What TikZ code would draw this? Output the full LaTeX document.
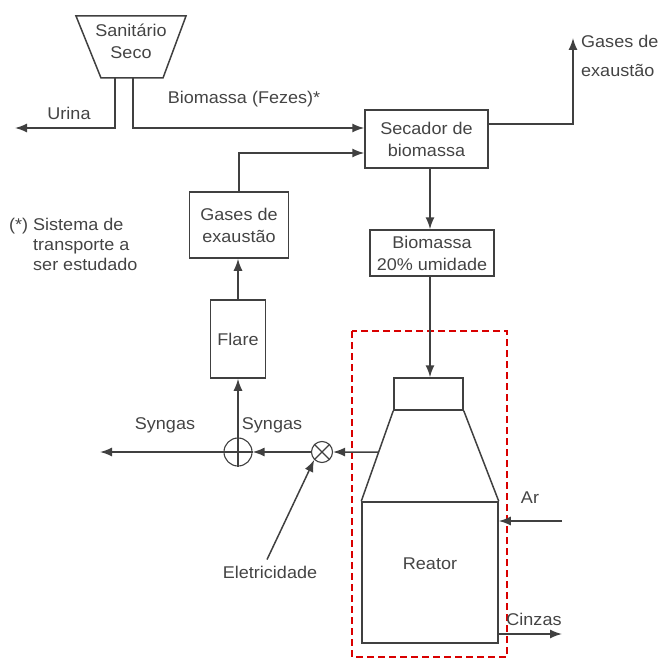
\documentclass[tikz,border=0pt]{standalone}
\usepackage{fontspec}
\setmainfont{Liberation Sans}[FakeStretch=1.06]
\usetikzlibrary{calc,arrows.meta}
\definecolor{linegray}{HTML}{404040}
\definecolor{textgray}{HTML}{444444}
\tikzset{
	box/.style={draw=linegray,line width=1.5pt,align=center,inner sep=0pt},
	flow/.style={-{Latex[length=12pt,width=9pt]},draw=linegray,line width=1.5pt},
	lbl/.style={text=textgray,inner sep=0pt},
}
\begin{document}
\begin{tikzpicture}[x=1pt,y=-1pt,font=\fontsize{17}{22}\selectfont,text=textgray]
			\useasboundingbox (0,0) rectangle (660,660);
			%coordinates
			\coordinate (urina) at (15,128);
			\coordinate (exout) at (573,38);
			\coordinate (synout) at (100,452);
			\coordinate (ar) at (562,521);
			\coordinate (cinz) at (562,634);
			%Sanitario
			\draw[linegray,line width=1.5pt] (76,16) -- (186,16) -- (163,78) -- (101,78) -- cycle;
			\coordinate (san-l) at (115,78);
			\coordinate (san-r) at (133,78);
			\node[lbl,align=center] (san) at (131,41) {Sanitário\\Seco};
			%Blocks
			\node[box,minimum width=123pt,minimum height=58pt] (sec) at (426.5,139) {Secador de\\biomassa};
			\node[box,minimum width=124pt,minimum height=46pt] (bio) at (432,253) {Biomassa\\20\% umidade};
			\node[box,minimum width=99pt,minimum height=66pt] (gex) at (239,225) {Gases de\\exaustão};
			\node[box,minimum width=55pt,minimum height=78pt] (flare) at (238,339) {Flare};
			%Reactor
			\node[box,minimum width=69pt,minimum height=32pt] (top) at (428.5,394) {};
			\node[box,minimum width=136pt,minimum height=141pt] (reat) at (430,572.5) {\raisebox{18pt}{Reator}};
			\draw[linegray,line width=1.5pt] (top.south west) -- (reat.north west);
			\draw[linegray,line width=1.5pt] (top.south east) -- (reat.north east);
			\coordinate (cone) at ($(top.south west)!0.457!(reat.north west)$);
			\draw[red!85!black,line width=1.7pt,dash pattern=on 7pt off 4pt] (352,331) rectangle (507,657);
			%Mixers
			\node[draw=linegray,circle,line width=1.1pt,minimum size=21pt,inner sep=0pt] (mix) at (322,452) {};
			\draw[linegray,line width=1.1pt] (mix.north east) -- (mix.south west) (mix.north west) -- (mix.south east);
			\node[draw=linegray,circle,line width=1.1pt,minimum size=28pt,inner sep=0pt] (sum) at (238,452) {};
			\draw[linegray,line width=1.1pt] (sum.north) -- (sum.south) (sum.west) -- (sum.east);
			%Flows
			\draw[flow] (san-l) |- (urina) node[pos=0.73,above=8pt,lbl] {Urina};
			\draw[flow] (san-r) |- ([yshift=11pt]sec.west) node[pos=0.74,above=20pt,lbl] {Biomassa (Fezes)*};
			\draw[flow] (gex.north) |- ([yshift=-14pt]sec.west);
			\draw[flow] ([yshift=15pt]sec.east) -| (exout);
			\node[lbl,anchor=north west,align=left] (exlbl) at (581,35) {Gases de\\[7pt]exaustão};
			\draw[flow] ([xshift=3.5pt]sec.south) -- ([xshift=3.5pt]sec.south |- bio.north);
			\draw[flow] ([xshift=-2pt]bio.south) -- ([xshift=-2pt]bio.south |- top.north);
			\draw[flow] (cone) -- (mix.east);
			\draw[flow] (mix.west) -- (sum.east);
			\draw[flow] (sum.west) -- (synout);
			\draw[flow] (sum.north) -- (flare.south);
			\draw[flow] (flare.north) -- (flare.north |- gex.south);
			\node[lbl] (syn1) at (165,425) {Syngas};
			\node[lbl] (syn2) at (272,425) {Syngas};
			\node[lbl] (elet) at (270,572) {Eletricidade};
			\draw[flow] ([xshift=-3pt,yshift=6pt]elet.north) -- (mix.south west);
			\draw[flow] (ar) -- (reat.east |- ar);
			\node[lbl] (arlbl) at (530,498) {Ar};
			\draw[flow] (reat.east |- cinz) -- (cinz);
			\node[lbl] (cinzlbl) at (534,619) {Cinzas};
			%Note
			\node[lbl,anchor=north west,align=left] (note) at (9,216) {\def\arraystretch{0.92}\begin{tabular}{@{}l@{ }l@{}}(*) & Sistema de\\ & transporte a\\ & ser estudado\end{tabular}};
\end{tikzpicture}
\end{document}
